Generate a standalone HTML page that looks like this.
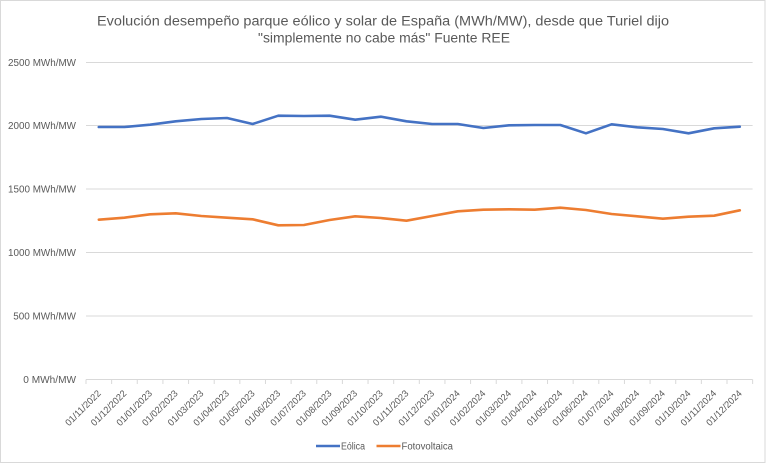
<!DOCTYPE html>
<html><head><meta charset="utf-8"><style>
html,body{margin:0;padding:0;background:#fff;}
svg{display:block;}
text{font-family:"Liberation Sans",sans-serif;fill:#595959;}
</style></head><body>
<svg width="766" height="464" viewBox="0 0 766 464" xmlns="http://www.w3.org/2000/svg">
<rect x="0.5" y="0.5" width="764.5" height="462" fill="#fff" stroke="#d9d9d9" stroke-width="1"/>
<text x="383" y="25.5" font-size="13.5" text-anchor="middle" textLength="572" lengthAdjust="spacingAndGlyphs">Evolución desempeño parque eólico y solar de España (MWh/MW), desde que Turiel dijo</text>
<text x="384" y="42.5" font-size="13.5" text-anchor="middle" textLength="252" lengthAdjust="spacingAndGlyphs">"simplemente no cabe más" Fuente REE</text>
<g stroke="#d9d9d9" stroke-width="1">
<line x1="86" y1="62.5" x2="752.6" y2="62.5"/>
<line x1="86" y1="125.5" x2="752.6" y2="125.5"/>
<line x1="86" y1="189" x2="752.6" y2="189"/>
<line x1="86" y1="252.5" x2="752.6" y2="252.5"/>
<line x1="86" y1="316" x2="752.6" y2="316"/>
<line x1="86" y1="379.5" x2="752.6" y2="379.5"/>
</g>
<g stroke="#d9d9d9" stroke-width="1">
<path d="M86,379.5v4.5M111.64,379.5v4.5M137.28,379.5v4.5M162.92,379.5v4.5M188.56,379.5v4.5M214.2,379.5v4.5M239.84,379.5v4.5M265.48,379.5v4.5M291.12,379.5v4.5M316.76,379.5v4.5M342.4,379.5v4.5M368.04,379.5v4.5M393.68,379.5v4.5M419.32,379.5v4.5M444.96,379.5v4.5M470.6,379.5v4.5M496.24,379.5v4.5M521.88,379.5v4.5M547.52,379.5v4.5M573.16,379.5v4.5M598.8,379.5v4.5M624.44,379.5v4.5M650.08,379.5v4.5M675.72,379.5v4.5M701.36,379.5v4.5M727,379.5v4.5M752.64,379.5v4.5"/>
</g>
<g font-size="10" text-anchor="end">
<text x="76" y="66" textLength="68" lengthAdjust="spacingAndGlyphs">2500 MWh/MW</text>
<text x="76" y="129" textLength="68" lengthAdjust="spacingAndGlyphs">2000 MWh/MW</text>
<text x="76" y="192.5" textLength="68" lengthAdjust="spacingAndGlyphs">1500 MWh/MW</text>
<text x="76" y="256" textLength="68" lengthAdjust="spacingAndGlyphs">1000 MWh/MW</text>
<text x="76" y="319.5" textLength="62.7" lengthAdjust="spacingAndGlyphs">500 MWh/MW</text>
<text x="76" y="383" textLength="52.7" lengthAdjust="spacingAndGlyphs">0 MWh/MW</text>
</g>
<g font-size="9.5" text-anchor="end">
<text transform="translate(101.5,394) rotate(-45)" textLength="46" lengthAdjust="spacingAndGlyphs">01/11/2022</text>
<text transform="translate(127.14,394) rotate(-45)" textLength="46" lengthAdjust="spacingAndGlyphs">01/12/2022</text>
<text transform="translate(152.78,394) rotate(-45)" textLength="46" lengthAdjust="spacingAndGlyphs">01/01/2023</text>
<text transform="translate(178.42,394) rotate(-45)" textLength="46" lengthAdjust="spacingAndGlyphs">01/02/2023</text>
<text transform="translate(204.06,394) rotate(-45)" textLength="46" lengthAdjust="spacingAndGlyphs">01/03/2023</text>
<text transform="translate(229.7,394) rotate(-45)" textLength="46" lengthAdjust="spacingAndGlyphs">01/04/2023</text>
<text transform="translate(255.34,394) rotate(-45)" textLength="46" lengthAdjust="spacingAndGlyphs">01/05/2023</text>
<text transform="translate(280.98,394) rotate(-45)" textLength="46" lengthAdjust="spacingAndGlyphs">01/06/2023</text>
<text transform="translate(306.62,394) rotate(-45)" textLength="46" lengthAdjust="spacingAndGlyphs">01/07/2023</text>
<text transform="translate(332.26,394) rotate(-45)" textLength="46" lengthAdjust="spacingAndGlyphs">01/08/2023</text>
<text transform="translate(357.9,394) rotate(-45)" textLength="46" lengthAdjust="spacingAndGlyphs">01/09/2023</text>
<text transform="translate(383.54,394) rotate(-45)" textLength="46" lengthAdjust="spacingAndGlyphs">01/10/2023</text>
<text transform="translate(409.18,394) rotate(-45)" textLength="46" lengthAdjust="spacingAndGlyphs">01/11/2023</text>
<text transform="translate(434.82,394) rotate(-45)" textLength="46" lengthAdjust="spacingAndGlyphs">01/12/2023</text>
<text transform="translate(460.46,394) rotate(-45)" textLength="46" lengthAdjust="spacingAndGlyphs">01/01/2024</text>
<text transform="translate(486.1,394) rotate(-45)" textLength="46" lengthAdjust="spacingAndGlyphs">01/02/2024</text>
<text transform="translate(511.74,394) rotate(-45)" textLength="46" lengthAdjust="spacingAndGlyphs">01/03/2024</text>
<text transform="translate(537.38,394) rotate(-45)" textLength="46" lengthAdjust="spacingAndGlyphs">01/04/2024</text>
<text transform="translate(563.02,394) rotate(-45)" textLength="46" lengthAdjust="spacingAndGlyphs">01/05/2024</text>
<text transform="translate(588.66,394) rotate(-45)" textLength="46" lengthAdjust="spacingAndGlyphs">01/06/2024</text>
<text transform="translate(614.3,394) rotate(-45)" textLength="46" lengthAdjust="spacingAndGlyphs">01/07/2024</text>
<text transform="translate(639.94,394) rotate(-45)" textLength="46" lengthAdjust="spacingAndGlyphs">01/08/2024</text>
<text transform="translate(665.58,394) rotate(-45)" textLength="46" lengthAdjust="spacingAndGlyphs">01/09/2024</text>
<text transform="translate(691.22,394) rotate(-45)" textLength="46" lengthAdjust="spacingAndGlyphs">01/10/2024</text>
<text transform="translate(716.86,394) rotate(-45)" textLength="46" lengthAdjust="spacingAndGlyphs">01/11/2024</text>
<text transform="translate(742.5,394) rotate(-45)" textLength="46" lengthAdjust="spacingAndGlyphs">01/12/2024</text>
</g>
<polyline fill="none" stroke="#4472C4" stroke-width="2.6" stroke-linejoin="round" stroke-linecap="round" points="98.8,127 124.44,127 150.08,124.7 175.72,121.3 201.36,119 227,118 252.64,124 278.28,115.7 303.92,116 329.56,115.7 355.2,119.7 380.84,116.7 406.48,121.3 432.12,124 457.76,124 483.4,128 509.04,125.3 534.68,125 560.32,125 585.96,133.3 611.6,124.3 637.24,127.3 662.88,129 688.52,133.3 714.16,128.3 739.8,126.7"/>
<polyline fill="none" stroke="#ED7D31" stroke-width="2.6" stroke-linejoin="round" stroke-linecap="round" points="98.8,219.7 124.44,217.7 150.08,214.3 175.72,213.3 201.36,216 227,217.7 252.64,219.3 278.28,225.3 303.92,225 329.56,220 355.2,216.3 380.84,218 406.48,220.7 432.12,216 457.76,211.3 483.4,209.7 509.04,209.3 534.68,209.7 560.32,207.7 585.96,210 611.6,214 637.24,216.3 662.88,218.7 688.52,216.7 714.16,215.7 739.8,210.3"/>
<line x1="316" y1="446" x2="340" y2="446" stroke="#4472C4" stroke-width="2.6"/>
<text x="341" y="449.5" font-size="10" textLength="24" lengthAdjust="spacingAndGlyphs">Eólica</text>
<line x1="376.5" y1="446" x2="400.5" y2="446" stroke="#ED7D31" stroke-width="2.6"/>
<text x="401.5" y="449.5" font-size="10" textLength="51.5" lengthAdjust="spacingAndGlyphs">Fotovoltaica</text>
</svg>
</body></html>
